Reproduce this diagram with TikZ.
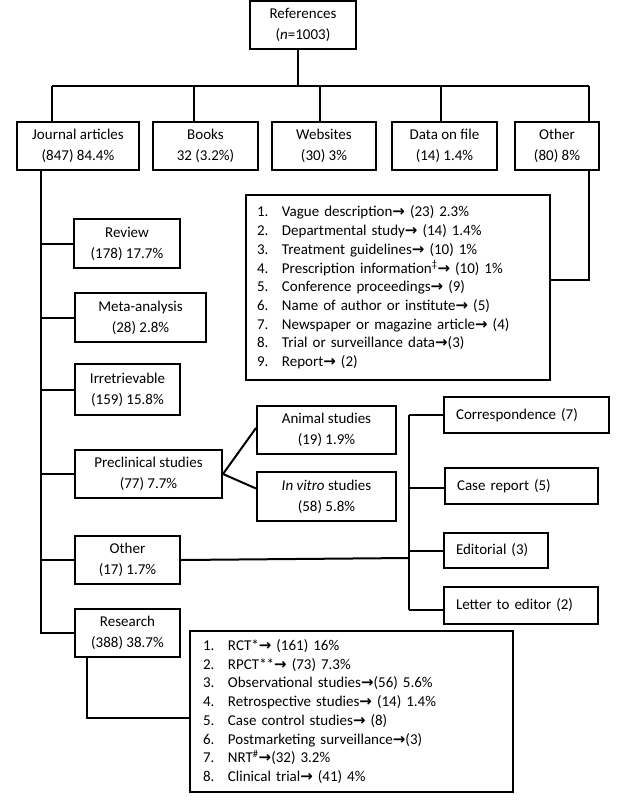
\documentclass[tikz,border=0pt]{standalone}
\usepackage{fontspec}
\setmainfont{Carlito}
\newfontfamily\arrfont{DejaVu Sans}
\newcommand{\goesto}{{\arrfont\bfseries\char"2192}}
\newcommand{\itm}[1]{\makebox[25pt][l]{#1}}

\tikzset{
  box/.style={draw, line width=2pt, inner sep=0pt, align=center,
    font=\fontsize{15}{21}\selectfont},
  lbox/.style={draw, line width=2pt, inner ysep=0pt, inner xsep=12pt,
    align=left, text width=#1, font=\fontsize{15}{18.7}\selectfont},
  conn/.style={line width=2pt}
}

\begin{document}
\begin{tikzpicture}[x=1pt,y=-1pt]
\useasboundingbox (0,0) rectangle (636,800);

 \node[box, minimum width=106pt, minimum height=48pt] (ref) at (303,25) {References\\(\textit{n}=1003)};

  \node[box, minimum width=122pt, minimum height=48pt] (jour) at (78,146) {Journal articles\\(847) 84.4\%};
  \node[box, minimum width=105pt, minimum height=48pt] (book) at (205.5,146) {Books\\32 (3.2\%)};
  \node[box, minimum width=104pt, minimum height=48pt] (web) at (324,146) {Websites\\(30) 3\%};
  \node[box, minimum width=105pt, minimum height=48pt] (data) at (444.5,146) {Data on file\\(14) 1.4\%};
  \node[box, minimum width=84pt, minimum height=48pt] (oth1) at (557,146) {Other\\(80) 8\%};

 \node[lbox=282pt, inner xsep=11pt, minimum height=185pt] (lst1) at (398,287.5) {%
  \itm{1.}Vague description\goesto{} (23) 2.3\%\\
  \itm{2.}Departmental study\goesto{} (14) 1.4\%\\
  \itm{3.}Treatment guidelines\goesto{} (10) 1\%\\
  \itm{4.}Prescription information\textsuperscript{‡}\goesto{} (10) 1\%\\
  \itm{5.}Conference proceedings\goesto{} (9)\\
  \itm{6.}Name of author or institute\goesto{} (5)\\
  \itm{7.}Newspaper or magazine article\goesto{} (4)\\
  \itm{8.}Trial or surveillance data\goesto{}(3)\\
  \itm{9.}Report\goesto{} (2)};

   \node[box, minimum width=106pt, minimum height=49pt] (rev) at (127,243.5) {Review\\(178) 17.7\%};
   \node[box, minimum width=131pt, minimum height=49pt] (meta) at (140.5,317.5) {Meta-analysis\\(28) 2.8\%};
   \node[box, minimum width=105pt, minimum height=51pt] (irr) at (127.5,389.5) {Irretrievable\\(159) 15.8\%};
   \node[box, minimum width=147pt, minimum height=48pt] (pre) at (148.5,474) {Preclinical studies\\(77) 7.7\%};
   \node[box, minimum width=105pt, minimum height=48pt] (oth2) at (127.5,560) {Other\\(17) 1.7\%};
   \node[box, minimum width=105pt, minimum height=48pt] (res) at (127.5,633) {Research\\(388) 38.7\%};

    \node[box, minimum width=139pt, minimum height=48pt] (ani) at (326.5,430) {Animal studies\\(19) 1.9\%};
    \node[box, minimum width=139pt, minimum height=49pt] (vit) at (326.5,496.5) {\textit{In vitro} studies\\(58) 5.8\%};

     \node[lbox=141pt, minimum height=36pt] (cor) at (526.5,415) {Correspondence (7)};
     \node[lbox=129pt, minimum height=36pt] (cas) at (521.5,486) {Case report (5)};
     \node[lbox=80pt, minimum height=35pt] (edi) at (496,550.5) {Editorial (3)};
     \node[lbox=130pt, minimum height=37pt] (let) at (521,605.5) {Letter to editor (2)};

 \node[lbox=297pt, inner xsep=13pt, minimum height=161pt] (lst2) at (351.5,711.5) {%
  \itm{1.}RCT*\goesto{} (161) 16\%\\
  \itm{2.}RPCT**\goesto{} (73) 7.3\%\\
  \itm{3.}Observational studies\goesto{}(56) 5.6\%\\
  \itm{4.}Retrospective studies\goesto{} (14) 1.4\%\\
  \itm{5.}Case control studies\goesto{} (8)\\
  \itm{6.}Postmarketing surveillance\goesto{}(3)\\
  \itm{7.}NRT\textsuperscript{\#}\goesto{}(32) 3.2\%\\
  \itm{8.}Clinical trial\goesto{} (41) 4\%};

\coordinate (b0) at (298,86);
\coordinate (b1) at (52,86);
\coordinate (b2) at (194,86);
\coordinate (b3) at (320,86);
\coordinate (b4) at (441,86);
\coordinate (b5) at (589,86);
\coordinate (sp) at (41,170);
\coordinate (o1) at (589,170);
\coordinate (hub) at (409,558);
\coordinate (rs) at (87,657);

\draw[conn] (b0) -- (b0|-ref.south);
\draw[conn] (b1) -- (b5);
\draw[conn] (b1) -- (b1|-jour.north);
\draw[conn] (b2) -- (b2|-book.north);
\draw[conn] (b3) -- (b3|-web.north);
\draw[conn] (b4) -- (b4|-data.north);
\draw[conn] (b5) -- (b5|-oth1.north);
\draw[conn] (o1) |- ([yshift=8pt]lst1.east);

\draw[conn] (sp) |- (res.west);
\draw[conn] (sp|-rev.west) -- (rev.west);
\draw[conn] (sp|-meta.west) -- (meta.west);
\draw[conn] (sp|-irr.west) -- (irr.west);
\draw[conn] (sp|-pre.west) -- (pre.west);
\draw[conn] (sp|-oth2.west) -- (oth2.west);

\draw[conn] (pre.east) -- ([yshift=2pt]ani.west);
\draw[conn] (pre.east) -- ([yshift=8pt]vit.west);

\draw[conn] (oth2.east) -- (hub);
\draw[conn] (hub|-cor.west) -- ([yshift=-4pt]hub|-let.west);
\draw[conn] (hub|-cor.west) -- (cor.west);
\draw[conn] ([yshift=-2pt]hub|-cas.west) -- ([yshift=-2pt]cas.west);
\draw[conn] (hub|-edi.west) -- (edi.west);
\draw[conn] ([yshift=-4pt]hub|-let.west) -- ([yshift=-4pt]let.west);

\draw[conn] (rs) |- ([yshift=-6.5pt]lst2.west);

\end{tikzpicture}
\end{document}
